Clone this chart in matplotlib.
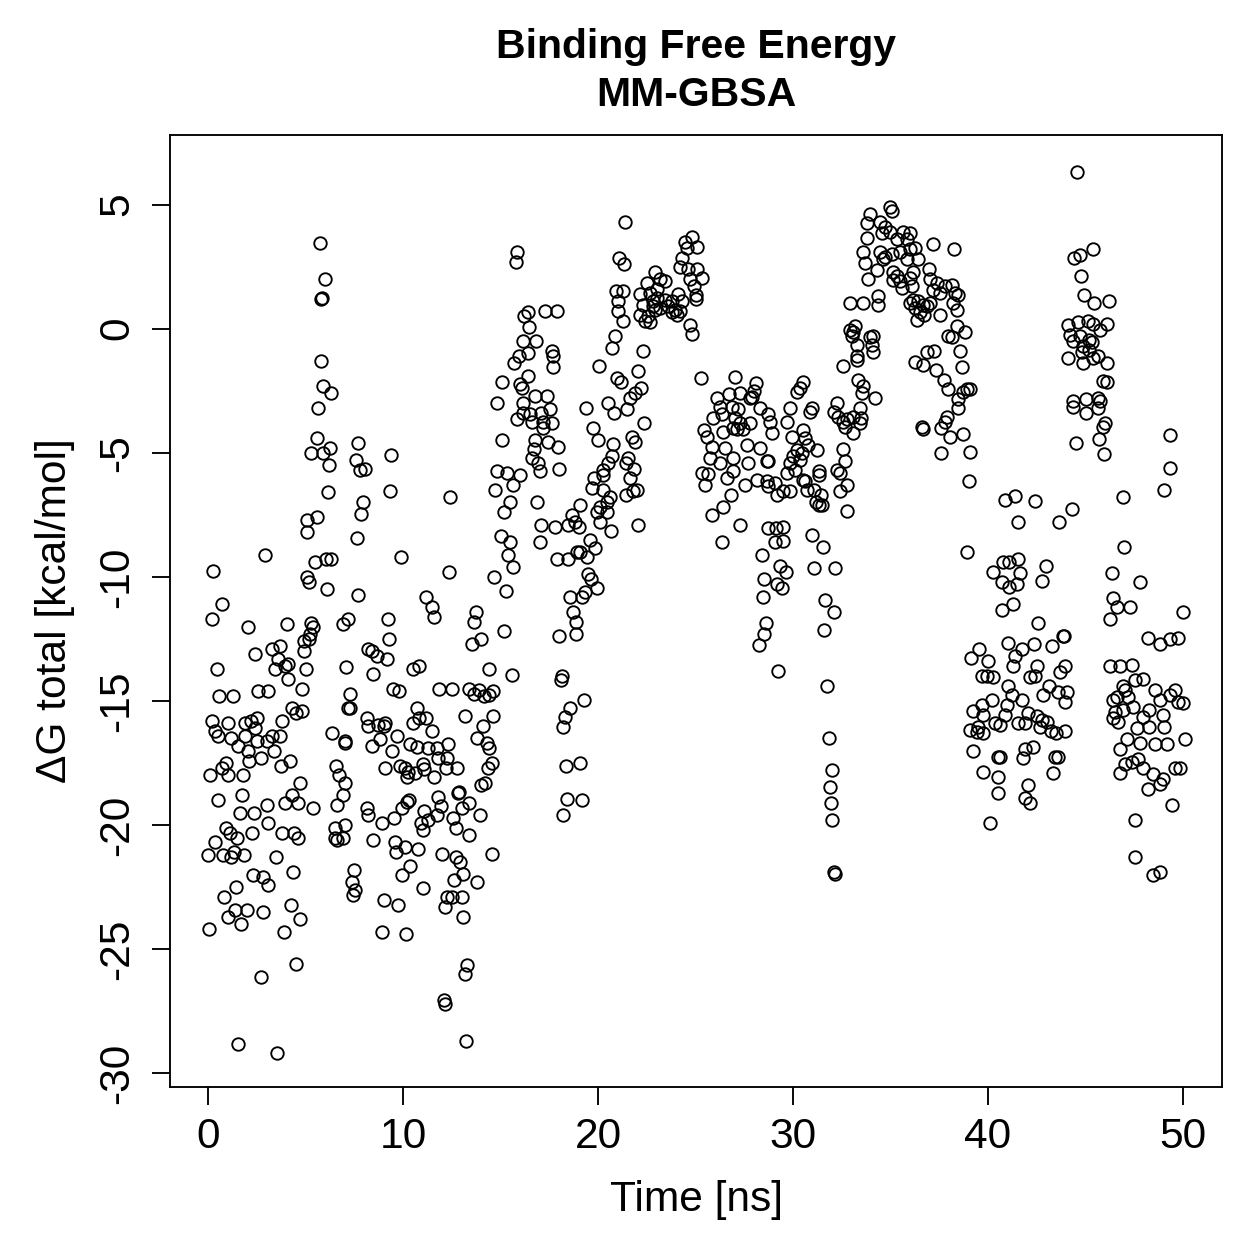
import matplotlib
matplotlib.use("Agg")
import matplotlib.pyplot as plt

# (time [ns], dG total [kcal/mol])
pts_00_10 = [
    (5.74, 3.46), (6.0, 2.0), (5.8, 1.2), (5.85, 1.25), (5.8, -1.3), (5.9, -2.3), (6.3, -2.6), (5.65, -3.2),
    (5.6, -4.4), (5.3, -5.0), (5.9, -5.0), (6.25, -4.8), (6.2, -5.5), (7.7, -4.6), (7.6, -5.3), (7.8, -5.7),
    (8.05, -5.65), (6.15, -6.6), (7.95, -7.0), (7.85, -7.45), (5.1, -7.7), (5.6, -7.6), (5.1, -8.2), (7.65, -8.45),
    (2.9, -9.1), (5.5, -9.4), (6.05, -9.3), (6.3, -9.3), (0.25, -9.75), (5.1, -10.0), (5.2, -10.2), (6.1, -10.5),
    (7.7, -10.75), (0.7, -11.1), (0.2, -11.7), (2.05, -12.0), (4.05, -11.9), (5.3, -11.85), (5.4, -12.0), (5.25, -12.3),
    (6.9, -11.9), (7.2, -11.7),
    (2.4, -13.1), (3.3, -12.9), (3.7, -12.8), (3.6, -13.3), (4.9, -13.0), (4.9, -12.6), (5.2, -12.5), (0.45, -13.7),
    (3.45, -13.7), (3.95, -13.6), (4.1, -13.5), (5.0, -13.7), (4.1, -14.1), (4.8, -14.5), (0.55, -14.8), (1.3, -14.8),
    (2.55, -14.6), (3.1, -14.6), (4.3, -15.3), (4.5, -15.5), (4.8, -15.4), (3.8, -15.8), (0.2, -15.8), (1.0, -15.9),
    (1.9, -15.9), (2.2, -15.8), (2.5, -15.7), (2.4, -16.1), (0.35, -16.2), (0.5, -16.4), (1.2, -16.5), (1.55, -16.8),
    (1.9, -16.4), (2.5, -16.6), (3.3, -16.4), (3.7, -16.4), (3.0, -16.6), (2.05, -17.0), (2.7, -17.3), (3.4, -17.0),
    (2.1, -17.4), (3.75, -17.6), (4.2, -17.4), (0.9, -17.5), (0.7, -17.7), (0.1, -18.0), (1.0, -18.0), (1.8, -18.0),
    (4.7, -18.3), (1.75, -18.8), (0.5, -19.0), (4.3, -18.8), (3.95, -19.1), (4.6, -19.1), (5.4, -19.3), (3.0, -19.2),
    (2.35, -19.5), (1.65, -19.5), (3.1, -19.9), (0.9, -20.1), (1.15, -20.3), (1.5, -20.5), (2.25, -20.3), (3.8, -20.3),
    (4.4, -20.3), (4.6, -20.5), (0.35, -20.7), (0.0, -21.2), (0.75, -21.2), (1.2, -21.3), (1.35, -21.1), (1.85, -21.2),
    (3.5, -21.3), (4.35, -21.9), (2.3, -22.0), (2.8, -22.1), (3.1, -22.4), (1.45, -22.5), (0.8, -22.9), (1.4, -23.4),
    (2.0, -23.4), (1.0, -23.7), (1.7, -24.0), (2.8, -23.5), (4.25, -23.2), (4.7, -23.8), (3.9, -24.3), (0.05, -24.2),
    (4.5, -25.6), (2.7, -26.1), (1.55, -28.8), (3.55, -29.2),
    (7.1, -13.65), (8.2, -12.9), (8.4, -13.0), (8.45, -13.9), (7.3, -14.7), (7.2, -15.3), (7.3, -15.3), (8.15, -15.7),
    (8.2, -16.0), (6.35, -16.3), (7.0, -16.6), (7.05, -16.7), (8.4, -16.8), (6.55, -17.6), (6.7, -18.0), (7.05, -18.3),
    (6.9, -18.8), (6.6, -19.2), (8.15, -19.3), (8.2, -19.6), (7.0, -20.0), (6.5, -20.1), (6.5, -20.5), (6.6, -20.6),
    (6.9, -20.5), (8.45, -20.6), (7.5, -21.8), (7.4, -22.3), (7.55, -22.6), (7.45, -22.8),
    (9.5, -14.5), (9.8, -14.6), (8.7, -15.95), (9.0, -16.0), (9.1, -15.9), (8.8, -16.55), (9.45, -17.0), (9.7, -16.4),
    (9.1, -17.7), (9.85, -17.6), (9.95, -19.3), (9.55, -19.7), (8.9, -19.9), (9.6, -20.7), (9.65, -21.1), (9.95, -22.0),
    (9.0, -23.0), (9.75, -23.2), (8.9, -24.3),
    (9.4, -5.1), (9.35, -6.55), (9.9, -9.2), (9.25, -11.7), (9.3, -12.5), (9.2, -13.3), (8.65, -13.2),
]

pts_10_20 = [
    (10.5, -13.7), (10.8, -13.6), (11.2, -10.8), (11.5, -11.2), (11.6, -11.6), (12.4, -6.8), (12.35, -9.8),
    (13.75, -11.4), (13.65, -11.8), (13.55, -12.7), (14.0, -12.5), (15.2, -12.2), (14.4, -13.7), (15.6, -13.95),
    (11.85, -14.5), (12.5, -14.5), (13.4, -14.5), (13.65, -14.7), (13.9, -14.55), (14.15, -14.8), (14.4, -14.75),
    (14.6, -14.6), (13.2, -15.6), (14.6, -15.6), (14.1, -16.0), (13.8, -16.5), (14.3, -16.7), (14.4, -16.9),
    (14.55, -17.5), (14.35, -17.7), (14.2, -18.3), (14.0, -18.4),
    (10.7, -15.3), (10.5, -15.9), (10.8, -15.7), (11.2, -15.7), (11.5, -16.2), (10.35, -16.75), (10.7, -16.85),
    (11.3, -16.9), (11.75, -16.9), (12.3, -16.75), (12.25, -17.3), (11.8, -17.3), (10.1, -17.7), (10.25, -17.85),
    (10.2, -18.05), (10.6, -17.9), (11.0, -17.55), (11.1, -17.75), (11.6, -18.05), (12.2, -17.7), (12.75, -17.7),
    (11.8, -18.85), (11.95, -19.25), (11.75, -19.6), (11.3, -19.8), (10.9, -19.9), (11.1, -19.45), (11.0, -20.2),
    (10.3, -19.0), (10.2, -19.05), (12.85, -18.65), (12.8, -18.7), (13.4, -19.1), (13.0, -19.3), (13.95, -19.6),
    (12.55, -19.7), (12.7, -20.1), (13.4, -20.4),
    (10.1, -20.9), (10.75, -20.95), (10.35, -21.65), (12.0, -21.15), (12.7, -21.3), (12.9, -21.5), (13.1, -21.95),
    (12.6, -22.2), (13.8, -22.3), (14.55, -21.15), (11.0, -22.55), (12.25, -22.9), (12.5, -22.9), (13.0, -22.9),
    (12.15, -23.3), (13.1, -23.7), (10.15, -24.4), (13.3, -25.65), (13.2, -26.0), (12.1, -27.05), (12.15, -27.2),
    (13.25, -28.7),
    (15.1, -2.15), (14.8, -3.0), (15.1, -4.5), (14.8, -5.75), (15.35, -5.8), (16.0, -5.9), (15.65, -6.3), (14.7, -6.5),
    (15.5, -7.0), (15.2, -7.4), (16.85, -7.0), (15.0, -8.35), (15.5, -8.6), (15.4, -9.1), (15.65, -9.6), (14.65, -10.0),
    (15.3, -10.55), (17.1, -7.9), (17.0, -8.6),
    (15.85, 3.1), (15.8, 2.7), (16.4, 0.65), (16.2, 0.5), (17.3, 0.7), (17.9, 0.7), (16.45, 0.05), (16.15, -0.5),
    (16.8, -0.5), (16.4, -1.0), (15.95, -1.1), (15.7, -1.4), (17.65, -0.9), (17.7, -1.1), (17.7, -1.55), (16.4, -1.9),
    (16.0, -2.25), (16.1, -2.4), (16.15, -3.0), (16.75, -2.7), (17.4, -2.7), (17.55, -3.25), (17.1, -3.4),
    (16.15, -3.4), (16.5, -3.45), (15.85, -3.65), (17.2, -3.75), (17.65, -3.8), (16.6, -3.75), (16.75, -4.5),
    (17.2, -4.0), (17.45, -4.55), (17.95, -4.75), (16.7, -4.85), (16.6, -5.2), (16.9, -5.4), (17.0, -5.75),
    (18.0, -5.65),
    (19.4, -3.2), (19.75, -4.0), (19.8, -6.0), (19.7, -6.4), (19.95, -7.4), (19.1, -7.1), (18.65, -7.5), (18.8, -7.8),
    (19.0, -8.0), (18.45, -7.9), (17.8, -8.0), (19.6, -8.5), (19.85, -8.85), (19.1, -9.0), (19.45, -9.2), (18.9, -9.0),
    (18.45, -9.3), (17.9, -9.3), (19.5, -9.9), (19.65, -10.1), (19.95, -10.45), (19.35, -10.6), (19.2, -10.8),
    (18.55, -10.8), (18.7, -11.4), (18.85, -11.8), (18.85, -12.3), (18.0, -12.4), (18.15, -14.0), (18.1, -14.15),
    (19.3, -14.95), (18.55, -15.3), (18.3, -15.65), (18.2, -16.05), (18.35, -17.6), (19.1, -17.5), (18.4, -18.95),
    (19.2, -19.0), (18.2, -19.6),
]

pts_20_30 = [
    (20.0, -4.5), (20.05, -1.5), (20.95, -2.0), (21.2, -2.15), (20.5, -3.0), (20.8, -3.4), (21.75, -4.35),
    (21.9, -4.55), (22.35, -3.8), (20.75, -4.65), (20.7, -5.15), (20.5, -5.4), (20.25, -5.7), (20.25, -5.9),
    (20.25, -6.5), (20.6, -6.8), (20.45, -7.0), (20.1, -7.2), (20.45, -7.4), (20.1, -7.8), (20.65, -8.15),
    (21.55, -5.2), (21.45, -5.4), (21.85, -5.65), (21.65, -6.0), (22.0, -6.5), (21.8, -6.55), (21.45, -6.7),
    (22.05, -7.9), (22.05, -1.7), (22.2, -2.4), (21.9, -2.6), (21.65, -2.8), (21.5, -3.25), (22.3, -0.9),
    (20.85, -0.3), (20.7, -0.8), (20.9, 1.5), (21.3, 1.5), (21.0, 1.1), (21.0, 0.7), (21.3, 0.3), (21.1, 2.85),
    (21.35, 2.6), (21.4, 4.3),
    (24.8, 3.7), (24.45, 3.5), (25.1, 3.3), (24.55, 3.25), (24.3, 2.85), (24.2, 2.5), (24.6, 2.4), (25.1, 2.4),
    (25.35, 2.05), (24.7, 2.0), (24.9, 1.7), (25.0, 1.35), (25.05, 1.2), (22.9, 2.3), (22.5, 1.85), (23.2, 2.0),
    (23.45, 1.9), (23.0, 1.6), (22.15, 1.4), (22.65, 1.45), (23.0, 1.25), (23.45, 1.15), (23.8, 1.1), (24.1, 1.4),
    (24.3, 1.1), (22.3, 0.95), (22.8, 0.9), (23.2, 0.85), (23.6, 0.9), (23.95, 0.75), (24.2, 0.7), (22.15, 0.55),
    (22.55, 0.5), (22.4, 0.3), (22.65, 0.25), (23.8, 0.65), (24.05, 0.55), (24.7, 0.15), (24.8, -0.2), (22.8, 1.1),
    (22.9, 0.75),
    (25.3, -2.0), (27.0, -1.95), (28.1, -2.2), (28.0, -2.5), (27.9, -2.75), (27.8, -2.8), (28.3, -3.2), (26.1, -2.8),
    (26.7, -2.65), (27.3, -2.6), (26.25, -3.15), (26.85, -3.15), (27.2, -3.25), (25.9, -3.6), (26.35, -3.45),
    (27.0, -3.6), (27.3, -3.8), (27.8, -3.8), (25.45, -4.1), (26.4, -4.15), (25.6, -4.35), (26.9, -4.0),
    (27.15, -4.05), (27.45, -4.05), (25.85, -4.75), (26.5, -4.8), (27.65, -4.7), (28.3, -4.8), (25.75, -5.2),
    (26.25, -5.4), (26.9, -5.2), (27.7, -5.4), (28.65, -5.35), (25.35, -5.8), (25.65, -5.85), (26.6, -6.0),
    (25.5, -6.3), (26.9, -5.75), (28.15, -6.1), (27.55, -6.3), (26.8, -6.7), (26.4, -7.2), (25.85, -7.5),
    (27.3, -7.9), (26.35, -8.6),
    (29.85, -3.2), (29.7, -3.75), (28.8, -3.75), (28.7, -3.45), (28.9, -4.2), (28.7, -5.35), (28.7, -6.35),
    (29.1, -6.2), (29.5, -6.55), (29.85, -6.55), (29.2, -6.7), (28.65, -6.15), (29.95, -4.35), (29.85, -5.4),
    (29.7, -5.8),
    (28.7, -8.05), (29.15, -8.05), (29.5, -8.0), (29.1, -8.6), (29.5, -8.55), (28.4, -9.1), (29.35, -9.55),
    (29.65, -9.8), (28.5, -10.1), (29.2, -10.3), (29.45, -10.45), (28.45, -10.8), (28.6, -11.85), (28.5, -12.3),
    (28.25, -12.75), (29.25, -13.8),
]

pts_30_40 = [
    (30.2, -2.55), (30.2, -4.9), (30.1, -5.7), (30.0, -5.15),
    (30.5, -2.15), (30.35, -2.4), (30.95, -3.2), (30.85, -3.35), (30.5, -4.1), (30.6, -4.4), (30.75, -4.7),
    (31.25, -4.9), (30.45, -5.0), (30.35, -5.3), (31.35, -5.75), (31.35, -5.9), (30.5, -6.1), (30.6, -6.15),
    (30.7, -6.5), (31.1, -6.5), (31.45, -6.7), (31.2, -7.0), (31.35, -7.1), (31.5, -7.1),
    (30.95, -8.3), (31.55, -8.8), (31.1, -9.65), (32.15, -9.65), (31.65, -10.95), (32.1, -11.4), (31.6, -12.15),
    (31.75, -14.4), (31.85, -16.5), (32.0, -17.8), (31.9, -18.45), (31.95, -19.1), (32.0, -19.8), (32.1, -21.9),
    (32.15, -21.95),
    (32.55, -1.5), (33.3, -1.25), (33.35, -2.05), (33.6, -2.3), (33.55, -2.6), (34.2, -2.8), (32.25, -3.0),
    (32.1, -3.35), (32.3, -3.55), (32.55, -3.75), (32.75, -3.65), (33.1, -3.55), (33.45, -3.2), (33.5, -3.6),
    (33.45, -3.8), (33.1, -4.2), (32.65, -3.95), (32.55, -4.85), (32.65, -5.35), (32.25, -5.7), (32.4, -5.8),
    (32.75, -6.3), (32.4, -6.55), (32.75, -7.35),
    (34.95, 4.9), (35.1, 4.75), (33.95, 4.6), (33.8, 4.25), (34.45, 4.3), (34.7, 4.1), (34.95, 3.9), (34.55, 3.85),
    (35.65, 3.9), (36.0, 3.85), (35.85, 3.6), (35.35, 3.6), (36.25, 3.25), (33.8, 3.65), (37.2, 3.4), (38.25, 3.2),
    (33.6, 3.1), (34.45, 3.1), (34.7, 2.9), (35.1, 3.0), (35.5, 3.1), (36.0, 3.2), (35.85, 2.8), (36.4, 2.8),
    (34.6, 2.8), (33.7, 2.65), (34.3, 2.35), (33.85, 2.0), (35.15, 2.3), (35.35, 2.1), (35.5, 1.9), (35.15, 1.95),
    (35.6, 1.65), (36.15, 2.3), (36.1, 1.7), (36.0, 2.05), (36.95, 2.4), (37.05, 2.0), (37.4, 1.85), (37.2, 1.55),
    (37.8, 1.7), (38.15, 1.75), (37.55, 1.45), (38.3, 1.45), (38.45, 1.35), (36.15, 1.15), (36.4, 1.1),
    (36.65, 0.95), (37.05, 1.05), (36.0, 1.05), (36.25, 0.85), (36.5, 0.65), (36.85, 0.9), (37.55, 0.55),
    (38.2, 1.05), (38.4, 0.75), (36.35, 0.35), (36.7, 0.55), (38.4, 0.1), (37.95, -0.3), (38.15, -0.35),
    (38.8, -0.15), (38.55, -0.9), (38.65, -1.55), (32.9, 1.05), (33.6, 1.05), (34.35, 1.3), (34.35, 0.95),
    (32.9, -0.05), (33.1, -0.15), (33.2, 0.1), (33.05, -0.3), (33.3, -0.65), (33.3, -1.1), (33.95, -0.35),
    (34.1, -0.3), (34.05, -0.65), (34.1, -0.95),
    (36.25, -1.35), (36.85, -0.95), (37.25, -0.9), (36.65, -1.45), (37.35, -1.65), (37.75, -2.05), (37.95, -2.45),
    (38.7, -2.55), (38.9, -2.45), (39.1, -2.45), (38.45, -2.85), (38.45, -3.2), (37.9, -3.55), (37.8, -3.75),
    (37.6, -4.0), (38.05, -4.35), (38.7, -4.25), (37.6, -5.0), (39.1, -4.95), (36.6, -3.95), (36.65, -4.05),
    (39.05, -6.15), (38.9, -9.0),
    (39.55, -12.9), (39.15, -13.25), (39.7, -14.0), (39.95, -14.0), (39.25, -15.4), (39.7, -15.15), (39.75, -15.55),
    (39.1, -16.15), (39.45, -16.25), (39.75, -16.3), (39.5, -16.05), (39.25, -17.0), (39.75, -17.85),
]

pts_40_50 = [
    (40.85, -6.9), (41.4, -6.75), (42.4, -6.95), (41.55, -7.8), (43.65, -7.8), (44.3, -7.25), (46.9, -6.8),
    (46.95, -8.8), (40.25, -9.8), (40.75, -9.4), (41.1, -9.4), (41.55, -9.3), (41.65, -9.85), (40.7, -10.2),
    (41.1, -10.4), (41.5, -10.3), (42.95, -9.55), (42.75, -10.15), (40.7, -11.35), (41.3, -11.1), (42.55, -11.85),
    (46.35, -9.85), (46.4, -10.85), (46.6, -11.2), (47.3, -11.2), (46.25, -11.7), (47.8, -10.2),
    (43.85, -12.4), (43.9, -12.4), (43.3, -12.8), (42.35, -12.7), (41.0, -12.65), (41.75, -12.9), (41.4, -13.2),
    (41.3, -13.6), (42.5, -13.6), (40.0, -13.4), (40.25, -14.05), (42.15, -14.05), (42.4, -14.0), (41.05, -14.4),
    (41.25, -14.75), (41.75, -14.95), (40.2, -14.95), (40.95, -15.15), (40.85, -15.55), (40.35, -15.9),
    (40.6, -15.95), (42.05, -15.5), (42.5, -15.6), (42.75, -15.75), (43.0, -15.85), (42.8, -14.75), (43.15, -14.4),
    (43.6, -14.65), (43.95, -13.6), (43.7, -13.85), (44.05, -14.65), (43.95, -15.05), (41.55, -15.9), (41.9, -15.9),
    (42.65, -16.05), (43.25, -16.2), (43.5, -16.3), (43.95, -16.2), (40.5, -17.25), (40.6, -17.25), (41.9, -16.95),
    (42.3, -16.85), (41.8, -17.3), (43.45, -17.25), (43.6, -17.25), (40.5, -18.05), (40.5, -18.7), (43.35, -17.9),
    (42.05, -18.4), (41.9, -18.9), (42.15, -19.1), (40.1, -19.9),
    (46.25, -13.6), (46.75, -13.6), (47.4, -13.55), (47.55, -14.15), (46.9, -14.4), (47.05, -14.55), (46.4, -14.95),
    (46.6, -14.85), (47.2, -14.85), (46.5, -15.45), (46.9, -15.35), (47.45, -15.25), (46.4, -15.7), (46.65, -15.85),
    (47.65, -16.1), (47.15, -16.55), (46.75, -16.95), (47.4, -17.45), (47.0, -17.55), (46.75, -17.9), (47.8, -16.7),
    (50.0, -11.4), (49.35, -12.5), (49.75, -12.45), (48.8, -12.7), (48.2, -12.45), (47.95, -14.1), (48.55, -14.55),
    (48.8, -14.95), (49.35, -14.75), (49.6, -14.55), (49.75, -15.05), (50.0, -15.1), (48.25, -15.35),
    (48.95, -15.55), (47.95, -15.65), (48.25, -16.05), (49.05, -16.05), (50.1, -16.55), (48.55, -16.75),
    (47.7, -17.35), (49.2, -16.75), (49.6, -17.7), (49.85, -17.7), (47.95, -17.7), (48.45, -17.95), (48.2, -18.55),
    (48.8, -18.35), (48.95, -18.15), (47.55, -19.8), (49.45, -19.2), (47.55, -21.3), (48.45, -22.0), (48.8, -21.9),
    (44.55, 6.3), (45.4, 3.2), (44.7, 2.95), (44.4, 2.85), (44.75, 2.1), (44.9, 1.35), (45.45, 1.05), (46.2, 1.1),
    (44.1, 0.15), (44.6, 0.25), (45.15, 0.3), (45.4, 0.2), (45.75, -0.05), (46.1, 0.2), (44.2, -0.25), (44.7, -0.3),
    (45.2, -0.45), (44.35, -0.5), (44.85, -0.7), (45.35, -0.55), (44.1, -1.2), (44.85, -1.4), (45.4, -1.2),
    (45.65, -1.1), (46.1, -1.4), (45.2, -0.85), (44.8, -0.95), (45.9, -2.1), (46.1, -2.15), (44.35, -2.9),
    (44.35, -3.15), (45.05, -2.85), (45.65, -2.8), (45.75, -2.9), (45.05, -3.4), (45.65, -3.2), (46.0, -3.8),
    (45.9, -3.95), (45.7, -4.45), (44.5, -4.6), (45.95, -5.05), (49.35, -4.3), (49.35, -5.6), (49.0, -6.5),
]

x_ticks = [0, 10, 20, 30, 40, 50]
y_ticks = [-30, -25, -20, -15, -10, -5, 0, 5]

all_pts = pts_00_10 + pts_10_20 + pts_20_30 + pts_30_40 + pts_40_50
time_ns = [p[0] for p in all_pts]
dG_total = [p[1] for p in all_pts]

plt.rcParams['font.family'] = ['Liberation Sans', 'DejaVu Sans']

W = H = 1259
fig = plt.figure(figsize=(W / 180, H / 180), dpi=180)
ax = fig.add_axes([170 / W, 1 - 1087 / H, (1222 - 170) / W, (1087 - 135) / H])
ax.plot(time_ns, dG_total, linestyle='none', marker='o', markerfacecolor='none',
        markeredgecolor='black', markersize=5.0, markeredgewidth=0.75)

ax.set_xlim(-1.95, 52.0)
ax.set_ylim(-30.55, 7.8)
ax.set_xticks(x_ticks)
ax.set_xticklabels([str(v) for v in x_ticks])
ax.set_yticks(y_ticks)
ax.set_yticklabels([str(v) for v in y_ticks], rotation=90, va='center')
ax.tick_params(axis='both', direction='out', length=7.2, width=0.75, labelsize=17, colors='black')
ax.tick_params(axis='x', pad=5)
ax.tick_params(axis='y', pad=6)
for s in ax.spines.values():
    s.set_linewidth(0.75)

fig.text(696 / W, 1 - 47 / H, 'Binding Free Energy', ha='center', va='center', fontsize=16.4, fontweight='bold')
fig.text(696 / W, 1 - 95 / H, 'MM-GBSA', ha='center', va='center', fontsize=16.4, fontweight='bold')
fig.text(696 / W, 1 - 1200 / H, 'Time [ns]', ha='center', va='center', fontsize=17)
fig.text(55 / W, 1 - 611 / H, 'ΔG total [kcal/mol]', ha='center', va='center', rotation=90, fontsize=17)

fig.savefig('out.png', dpi=180, facecolor='white')
